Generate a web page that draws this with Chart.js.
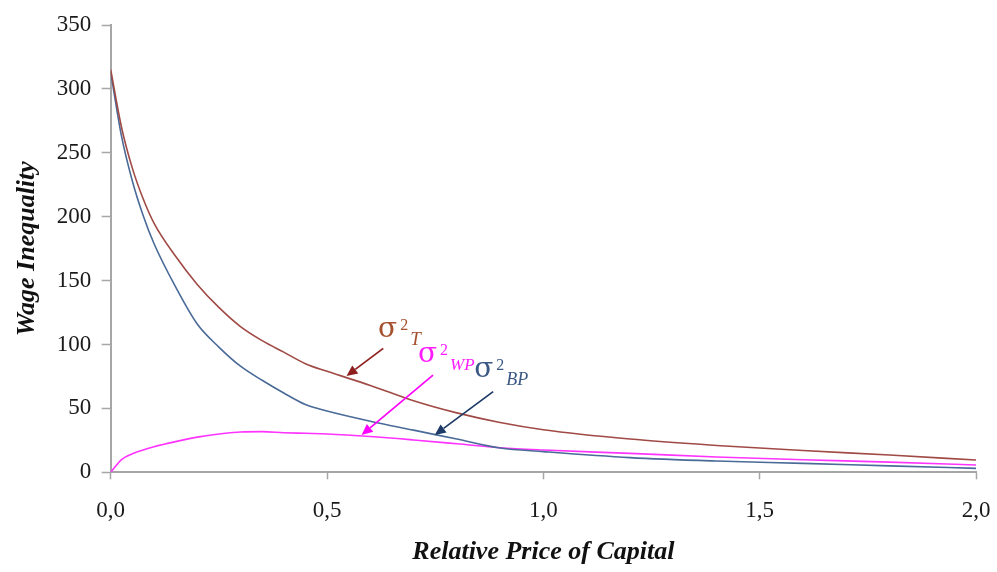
<!DOCTYPE html>
<html>
<head>
<meta charset="utf-8">
<script src="https://cdn.jsdelivr.net/npm/chart.js@4/dist/chart.umd.min.js"></script>
<style>
  html, body { margin: 0; padding: 0; background: #fff; }
  #wrap { width: 997px; height: 572px; position: relative; }
</style>
</head>
<body>
<div id="wrap"><canvas id="chart"></canvas></div>
<script>
// Relative price of capital (x) and the three variance curves
const prices = [0, 0.025, 0.05, 0.075, 0.1, 0.15, 0.2, 0.25, 0.3, 0.35, 0.4, 0.45, 0.5,
  0.6, 0.7, 0.8, 0.9, 1.0, 1.2, 1.4, 1.6, 1.8, 2.0];
const totalVar = [315, 270, 238, 214, 195, 169, 147, 129, 114, 103, 94, 85, 79,
  68, 56, 46.5, 39, 33.3, 26, 21, 17, 13.5, 9.6];
const betweenVar = [313, 263, 228, 201, 179, 145, 116, 98, 83, 72, 62, 53, 48,
  40, 33, 26, 19, 16.2, 11.5, 8.8, 7, 5, 3.1];
const withinVar = [0, 10, 14.5, 17.5, 20, 24, 27.5, 30, 31.5, 31.8, 31, 30.5, 30,
  28, 25.3, 22.3, 19.2, 17.4, 14.8, 12, 9.8, 8, 5.7];

const xTicks = [0, 0.5, 1.0, 1.5, 2.0];
const yTicks = [0, 50, 100, 150, 200, 250, 300, 350];

// Curve labels (data units, x/y = left/baseline of sigma)
const curveLabels = [
  { sub: 'T', color: '#A5512E', x: 0.618, y: 106, subSize: 19 },
  { sub: 'WP', color: '#FF1CFF', x: 0.71, y: 86.3, subSize: 17 },
  { sub: 'BP', color: '#3A5884', x: 0.84, y: 74.6, subSize: 18 },
];
// Arrows: from -> to, in data units
const arrows = [
  { color: '#8E1F1F', from: [0.63, 97], to: [0.545, 75.3] },
  { color: '#FF00FF', from: [0.745, 76.1], to: [0.58, 29.2] },
  { color: '#1E3A66', from: [0.884, 63.1], to: [0.749, 29.2] },
];

const SERIF = '"Liberation Serif", "Times New Roman", serif';

function toPoints(values) {
  return values.map((v, i) => ({ x: prices[i], y: v }));
}

function commaLabel(v) {
  return v.toFixed(1).replace('.', ',');
}

const annotationPlugin = {
  id: 'curveNotes',
  afterDatasetsDraw(chart) {
    const ctx = chart.ctx;
    const xs = chart.scales.x;
    const ys = chart.scales.y;

    arrows.forEach((a) => {
      const x1 = xs.getPixelForValue(a.from[0]);
      const y1 = ys.getPixelForValue(a.from[1]);
      const x2 = xs.getPixelForValue(a.to[0]);
      const y2 = ys.getPixelForValue(a.to[1]);
      const ang = Math.atan2(y2 - y1, x2 - x1);
      const head = 11;
      const half = 5;
      const bx = x2 - head * Math.cos(ang);
      const by = y2 - head * Math.sin(ang);
      ctx.save();
      ctx.strokeStyle = a.color;
      ctx.fillStyle = a.color;
      ctx.lineWidth = 1.7;
      ctx.beginPath();
      ctx.moveTo(x1, y1);
      ctx.lineTo(bx, by);
      ctx.stroke();
      ctx.beginPath();
      ctx.moveTo(x2, y2);
      ctx.lineTo(bx + half * Math.sin(ang), by - half * Math.cos(ang));
      ctx.lineTo(bx - half * Math.sin(ang), by + half * Math.cos(ang));
      ctx.closePath();
      ctx.fill();
      ctx.restore();
    });

    curveLabels.forEach((l) => {
      let x = xs.getPixelForValue(l.x);
      const y = ys.getPixelForValue(l.y);
      ctx.save();
      ctx.fillStyle = l.color;
      ctx.textBaseline = 'alphabetic';
      ctx.textAlign = 'left';
      ctx.font = '28px "DejaVu Serif", serif';
      ctx.fillText('σ', x, y);
      x += ctx.measureText('σ').width + 3;
      ctx.font = '16px ' + SERIF;
      ctx.fillText('2', x, y - 7);
      x += ctx.measureText('2').width + 2;
      ctx.font = 'italic ' + l.subSize + 'px ' + SERIF;
      ctx.fillText(l.sub, x, y + 8);
      ctx.restore();
    });
  },
};

const axisGrey = '#A6A6A6';

new Chart(document.getElementById('chart').getContext('2d'), {
  type: 'line',
  data: {
    datasets: [
      {
        label: 'σ²T',
        data: toPoints(totalVar),
        borderColor: '#A04A45',
        borderWidth: 1.6,
        pointRadius: 0,
        cubicInterpolationMode: 'monotone',
      },
      {
        label: 'σ²BP',
        data: toPoints(betweenVar),
        borderColor: '#4A6A98',
        borderWidth: 1.6,
        pointRadius: 0,
        cubicInterpolationMode: 'monotone',
      },
      {
        label: 'σ²WP',
        data: toPoints(withinVar),
        borderColor: '#FF33FF',
        borderWidth: 1.6,
        pointRadius: 0,
        cubicInterpolationMode: 'monotone',
      },
    ],
  },
  options: {
    responsive: true,
    maintainAspectRatio: false,
    animation: false,
    layout: { padding: { top: 25, right: 21, left: 0, bottom: 0 } },
    plugins: {
      legend: { display: false },
      tooltip: { enabled: false },
    },
    scales: {
      x: {
        type: 'linear',
        min: 0,
        max: 2,
        afterFit(scale) {
          scale.height = 99.7;
          // the tick padding would otherwise push the plot in from the right
          scale.paddingLeft = 0;
          scale.paddingRight = 0;
        },
        afterBuildTicks(scale) { scale.ticks = xTicks.map((v) => ({ value: v })); },
        ticks: {
          callback: (v) => commaLabel(v),
          color: '#1a1a1a',
          padding: 18,
          maxRotation: 0,
          font: { family: SERIF, size: 23 },
        },
        grid: {
          drawOnChartArea: false,
          drawTicks: true,
          tickLength: 7,
          tickColor: axisGrey,
          tickWidth: 1.5,
        },
        border: { color: axisGrey, width: 2 },
        title: {
          display: true,
          text: 'Relative Price of Capital',
          color: '#111',
          padding: { top: 0, bottom: 4 },
          font: { family: SERIF, size: 26, style: 'italic', weight: 'bold' },
        },
      },
      y: {
        min: 0,
        max: 350,
        afterFit(scale) { scale.width = 110.7; },
        afterBuildTicks(scale) { scale.ticks = yTicks.map((v) => ({ value: v })); },
        ticks: {
          color: '#1a1a1a',
          padding: 10.5,
          font: { family: SERIF, size: 23 },
        },
        grid: {
          drawOnChartArea: false,
          drawTicks: true,
          tickLength: 9,
          tickColor: axisGrey,
          tickWidth: 1.5,
        },
        border: { color: axisGrey, width: 2 },
        title: {
          display: true,
          text: 'Wage Inequality',
          color: '#111',
          padding: { top: 12, bottom: 0 },
          font: { family: SERIF, size: 26, style: 'italic', weight: 'bold' },
        },
      },
    },
  },
  plugins: [annotationPlugin],
});
</script>
</body>
</html>
